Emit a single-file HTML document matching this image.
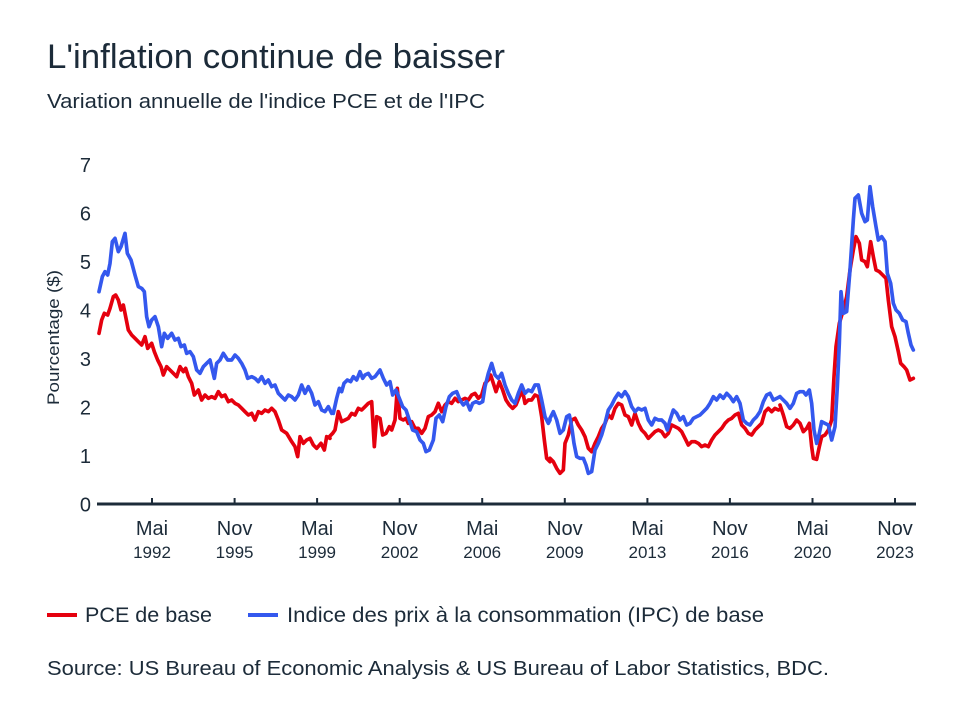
<!DOCTYPE html>
<html>
<head>
<meta charset="utf-8">
<style>
  html,body{margin:0;padding:0;background:#fff;}
  svg{display:block;}
  text{font-family:"Liberation Sans", sans-serif; fill:#1c2b39;}
</style>
</head>
<body>
<svg width="960" height="720" viewBox="0 0 960 720" xmlns="http://www.w3.org/2000/svg">
  <rect width="960" height="720" fill="#fff"/>
  <!-- Title -->
  <text x="47" y="68" font-size="34" textLength="458" lengthAdjust="spacingAndGlyphs">L'inflation continue de baisser</text>
  <text x="47" y="108" font-size="20" textLength="438" lengthAdjust="spacingAndGlyphs">Variation annuelle de l'indice PCE et de l'IPC</text>

  <!-- Y axis title -->
  <text transform="translate(59,337.5) rotate(-90)" font-size="17" text-anchor="middle" textLength="135" lengthAdjust="spacingAndGlyphs">Pourcentage ($)</text>

  <!-- Y tick labels -->
  <g font-size="20" text-anchor="end">
    <text x="91" y="511.5">0</text>
    <text x="91" y="463">1</text>
    <text x="91" y="414.5">2</text>
    <text x="91" y="366">3</text>
    <text x="91" y="317.5">4</text>
    <text x="91" y="269">5</text>
    <text x="91" y="220.5">6</text>
    <text x="91" y="172">7</text>
  </g>

  <!-- Series: PCE (red) -->
  <g fill="none" stroke="#e5000e" stroke-width="11" stroke-linejoin="round" stroke-linecap="round">
    <polyline transform="translate(95,220) scale(0.33333)" points="12,340 20,300 28,280 38,285 45,265 55,230 62,225 70,240 78,270 85,255 92,290 100,330 110,345 120,355 130,365 140,375 150,350 158,385 170,370 178,395 188,420 198,440 205,465 215,440 225,450 235,460 245,470 255,440 265,455 272,445 280,470 290,490 298,525 310,510 320,540 330,525 340,535 350,530 360,535 370,515 380,530 390,525 400,545 410,540 420,550 430,555 440,565 450,575 460,585 470,580 480,600 490,575 500,580 510,570 520,575 530,565 540,575 550,600 560,630 575,640 590,665 600,680 608,710 615,650 625,670 635,660 645,655 655,675 665,685 678,670 688,690 695,650 705,655"/>
    <polyline transform="translate(320,340) scale(0.33333)" points="28,290 38,280 45,270 55,215 65,245 75,240 85,235 95,220 105,225 115,205 125,210 135,200 145,190 155,185 163,320 170,230 180,235 188,285 198,280 208,260 215,270 225,240 232,145 240,235 250,240 258,235 265,250 275,245 285,265 295,265 305,280 315,265 325,230 335,225 345,215 355,190 365,215 375,195 385,185 395,190 405,175 415,185 425,180 435,175 445,180 455,165 465,160 475,175 485,165 495,130 505,120 512,105 520,130 528,155 538,125 548,150 558,180 568,195 578,205 588,195 598,170 608,155 615,190 625,180 635,180 645,165 655,170 665,230 673,300 680,355 690,365"/>
    <polyline transform="translate(550,340) scale(0.33333)" points="0,355 10,365 20,385 30,400 40,390 45,310 55,285 65,240 75,235 85,255 95,270 105,290 115,325 125,335 135,310 145,290 155,265 165,250 175,225 185,235 195,205 205,190 215,195 225,225 235,230 245,255 255,220 265,250 275,270 285,280 295,295 305,285 315,275 325,270 335,275 345,290 355,280 365,255 375,260 385,265 395,275 405,295 415,315 425,305 435,305 445,310 455,320 465,315 475,320 485,300 495,285 505,275 515,265 525,250 535,240 545,235 555,225 565,220 575,255 585,265 595,280 605,285 615,270 625,260 635,250 645,215 655,205 665,215 675,205 685,210 690,208"/>
    <polyline transform="translate(780,170) scale(0.33333)" points="0,705 10,735 20,770 30,775 40,765 50,750 60,760 70,785 80,775 88,760 95,830 100,865 110,868 118,830 125,800 135,795 145,780 155,750 162,620 168,530 178,460 190,420 200,380 210,300 220,240 228,200 238,220 245,270 255,275 262,290 272,215 280,260 288,300 298,305 308,315 318,325 325,390 335,470 345,500 355,545 362,580 372,590 380,600 390,630 400,625"/>
  </g>

  <!-- Series: CPI (blue) -->
  <g fill="none" stroke="#3458ee" stroke-width="11" stroke-linejoin="round" stroke-linecap="round">
    <polyline transform="translate(95,220) scale(0.33333)" points="12,215 22,170 30,155 38,165 45,130 52,65 60,55 70,95 78,80 90,40 97,100 108,120 120,165 130,200 140,205 148,215 155,290 162,320 170,300 180,290 190,320 200,380 208,340 218,355 230,340 240,360 250,355 258,380 268,375 275,400 285,395 295,410 305,450 315,460 325,440 335,430 345,420 358,475 365,430 375,420 385,400 398,420 410,420 420,405 430,415 440,430 450,450 458,475 470,470 480,475 490,485 500,470 510,490 520,480 530,500 540,495 550,520 560,530 570,540 580,525 590,530 600,540 610,525 620,495 630,520 640,500 650,520 660,555 670,545 680,570 690,575 700,560 710,580"/>
    <polyline transform="translate(320,340) scale(0.33333)" points="40,220 50,175 58,145 65,155 72,130 82,120 92,125 100,110 110,120 120,95 128,115 135,105 145,100 155,115 165,110 180,90 190,115 200,135 210,125 218,165 228,150 238,175 248,200 258,210 268,240 278,270 290,275 300,300 310,310 318,335 328,330 340,300 348,235 358,225 368,245 378,200 388,170 398,160 410,155 420,180 430,195 440,185 450,210 458,190 468,185 478,190 488,185 495,140 505,100 515,70 525,105 535,115 545,100 555,135 565,160 575,180 585,190 595,160 605,135 615,160 625,150 635,155 645,135 655,135 665,180 675,230 685,250 690,240"/>
    <polyline transform="translate(550,340) scale(0.33333)" points="0,235 10,215 20,240 30,280 40,270 50,230 58,225 65,260 72,310 80,350 90,355 100,355 108,375 115,400 125,395 135,330 145,310 155,285 165,250 175,210 185,195 195,175 205,160 215,170 225,155 235,170 245,200 255,215 265,205 275,210 285,205 295,240 305,255 315,235 325,240 335,240 345,250 352,270 360,240 370,210 380,220 390,240 400,230 410,255 420,250 430,235 440,230 450,225 460,215 470,205 480,190 490,170 500,180 510,165 520,175 530,160 540,170 550,185 560,170 570,190 580,240 590,250 600,255 610,240 620,230 630,215 640,185 650,165 660,160 670,180 680,175 690,170"/>
    <polyline transform="translate(780,170) scale(0.33333)" points="0,680 10,690 20,700 30,715 40,700 50,670 60,665 70,665 78,675 88,660 95,700 102,780 110,820 118,790 125,755 135,760 145,765 155,810 165,770 172,650 178,520 183,365 190,430 200,425 210,300 220,150 225,85 235,75 245,130 255,155 262,150 270,50 278,110 288,170 295,210 305,200 315,215 322,310 332,340 340,400 348,420 358,430 368,450 378,455 385,490 393,525 400,540"/>
  </g>

  <!-- X axis -->
  <line x1="97" y1="504" x2="916" y2="504" stroke="#1c2b39" stroke-width="3"/>
  <g stroke="#1c2b39" stroke-width="2">
    <line x1="152" y1="498" x2="152" y2="504"/>
    <line x1="234.6" y1="498" x2="234.6" y2="504"/>
    <line x1="317.1" y1="498" x2="317.1" y2="504"/>
    <line x1="399.7" y1="498" x2="399.7" y2="504"/>
    <line x1="482.2" y1="498" x2="482.2" y2="504"/>
    <line x1="564.8" y1="498" x2="564.8" y2="504"/>
    <line x1="647.4" y1="498" x2="647.4" y2="504"/>
    <line x1="729.9" y1="498" x2="729.9" y2="504"/>
    <line x1="812.5" y1="498" x2="812.5" y2="504"/>
    <line x1="895" y1="498" x2="895" y2="504"/>
  </g>

  <!-- X tick labels -->
  <g text-anchor="middle">
    <g font-size="20">
      <text x="152" y="535">Mai</text>
      <text x="234.6" y="535">Nov</text>
      <text x="317.1" y="535">Mai</text>
      <text x="399.7" y="535">Nov</text>
      <text x="482.2" y="535">Mai</text>
      <text x="564.8" y="535">Nov</text>
      <text x="647.4" y="535">Mai</text>
      <text x="729.9" y="535">Nov</text>
      <text x="812.5" y="535">Mai</text>
      <text x="895" y="535">Nov</text>
    </g>
    <g font-size="17">
      <text x="152" y="558">1992</text>
      <text x="234.6" y="558">1995</text>
      <text x="317.1" y="558">1999</text>
      <text x="399.7" y="558">2002</text>
      <text x="482.2" y="558">2006</text>
      <text x="564.8" y="558">2009</text>
      <text x="647.4" y="558">2013</text>
      <text x="729.9" y="558">2016</text>
      <text x="812.5" y="558">2020</text>
      <text x="895" y="558">2023</text>
    </g>
  </g>

  <!-- Legend -->
  <line x1="47" y1="615" x2="77" y2="615" stroke="#e5000e" stroke-width="4"/>
  <text x="85" y="622" font-size="21" textLength="127" lengthAdjust="spacingAndGlyphs">PCE de base</text>
  <line x1="248" y1="615" x2="278" y2="615" stroke="#3458ee" stroke-width="4"/>
  <text x="287" y="622" font-size="21" textLength="477" lengthAdjust="spacingAndGlyphs">Indice des prix à la consommation (IPC) de base</text>

  <!-- Source -->
  <text x="47" y="675" font-size="20" textLength="782" lengthAdjust="spacingAndGlyphs">Source: US Bureau of Economic Analysis &amp; US Bureau of Labor Statistics, BDC.</text>
</svg>
</body>
</html>
